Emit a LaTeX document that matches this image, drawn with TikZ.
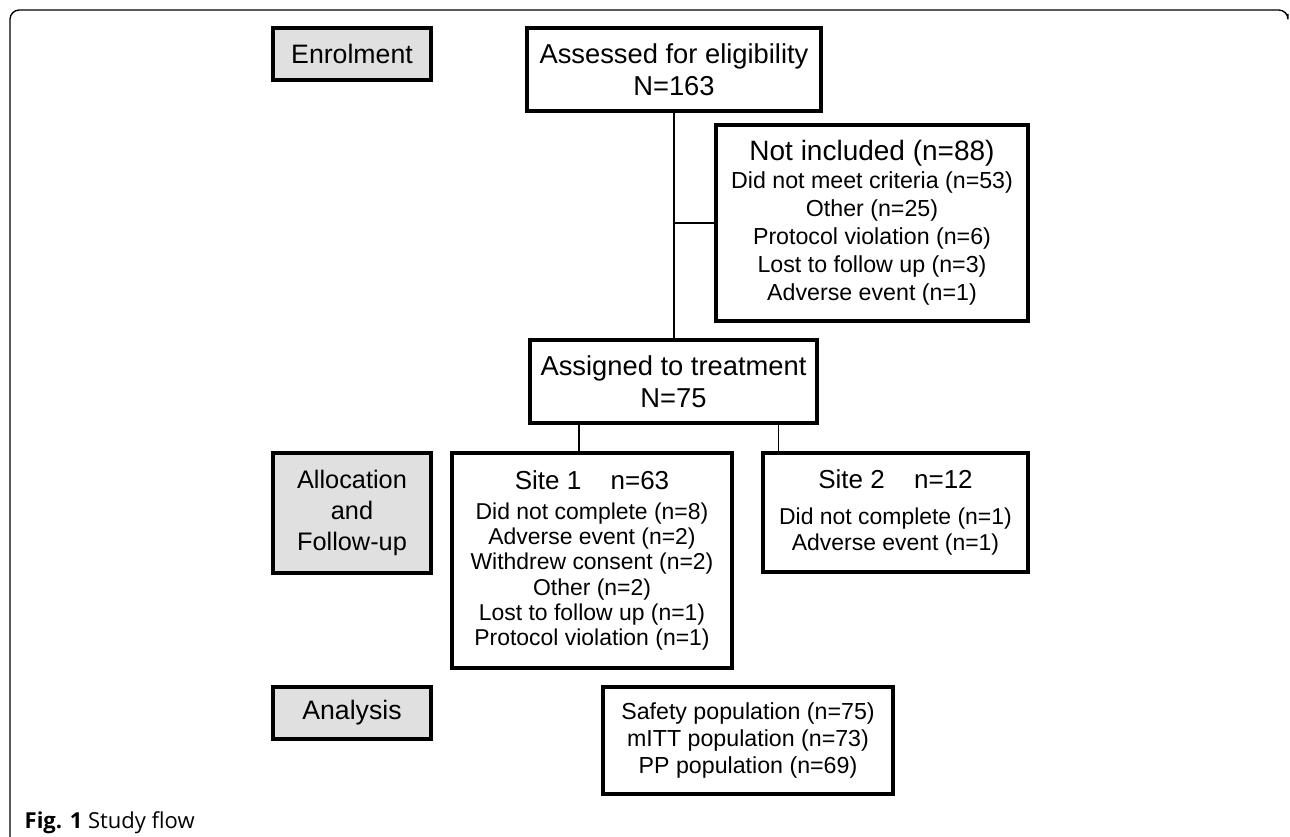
\documentclass[tikz,border=0pt]{standalone}
\usepackage{fontspec}
\setmainfont{Liberation Sans}
\newfontfamily\capfont{Open Sans}
\usetikzlibrary{positioning}

\begin{document}
\begin{tikzpicture}[
    x=0.75pt, y=-0.75pt,
    box/.style={rectangle, draw, line width=2.4pt, align=center, inner sep=0pt},
    stage/.style={box, fill=black!12, minimum width=118.5pt},
    link/.style={line width=0.8pt}
]
\useasboundingbox (0,0) rectangle (1290,837);

% Marco
\draw[line width=1pt, rounded corners=7pt] (10,837) -- (10,10) -- (1288,10) -- (1288,14);

% Etapas
\node[stage, minimum height=39pt, font=\fontsize{20}{24}\selectfont] (enrol) at (352,54) {Enrolment};
\node[stage, minimum height=90pt, font=\fontsize{19}{23.2}\selectfont] (alloc) at (352,513) {Allocation\\and\\Follow-up};
\node[stage, minimum height=39pt, font=\fontsize{20}{24}\selectfont] (anal) at (352,713) {Analysis};

% Cajas del flujo
\node[box, minimum width=220.5pt, minimum height=62.25pt, font=\fontsize{20.5}{24}\selectfont] (assess) at (674,69.5) {Assessed for eligibility\\N=163};
\node[box, minimum width=234pt, minimum height=147pt, font=\fontsize{17.4}{21}\selectfont] (notinc) at (872,223)
    {{\fontsize{21}{24}\selectfont Not included (n=88)}\\Did not meet criteria (n=53)\\Other (n=25)\\Protocol violation (n=6)\\Lost to follow up (n=3)\\Adverse event (n=1)};
\node[box, minimum width=215.25pt, minimum height=62.25pt, font=\fontsize{20.5}{24}\selectfont] (assign) at (673.5,381.5) {Assigned to treatment\\N=75};
\node[box, minimum width=210pt, minimum height=161.25pt, font=\fontsize{17.2}{19}\selectfont] (site1) at (592,560.5)
    {{\fontsize{19.5}{22}\selectfont Site 1\hspace{22pt}n=63}\\[3.5pt]Did not complete (n=8)\\Adverse event (n=2)\\Withdrew consent (n=2)\\Other (n=2)\\Lost to follow up (n=1)\\Protocol violation (n=1)};
\node[box, minimum width=198.75pt, minimum height=89.25pt, font=\fontsize{17.2}{20}\selectfont] (site2) at (895.5,512.5)
    {{\fontsize{19.5}{22}\selectfont Site 2\hspace{22pt}n=12}\\[7pt]Did not complete (n=1)\\Adverse event (n=1)};
\node[box, minimum width=217.5pt, minimum height=80.25pt, font=\fontsize{17.4}{20.6}\selectfont] (result) at (748,740.5)
    {Safety population (n=75)\\mITT population (n=73)\\PP population (n=69)};

% Conectores
\draw[link] (assess.south) -- (assess.south |- assign.north);
\draw[link] (assess.south |- notinc.west) -- (notinc.west);
\draw[link] ([xshift=-70.9pt]assign.south) -- ([xshift=-70.9pt]assign.south |- site1.north);
\draw[link] ([xshift=78.4pt]assign.south) -- ([xshift=78.4pt]assign.south |- site2.north);

% Leyenda
\node[anchor=west, font=\capfont\fontsize{16.5}{19}\selectfont] (caption) at (20,823) {\textbf{Fig. 1} Study flow};

\end{tikzpicture}
\end{document}
